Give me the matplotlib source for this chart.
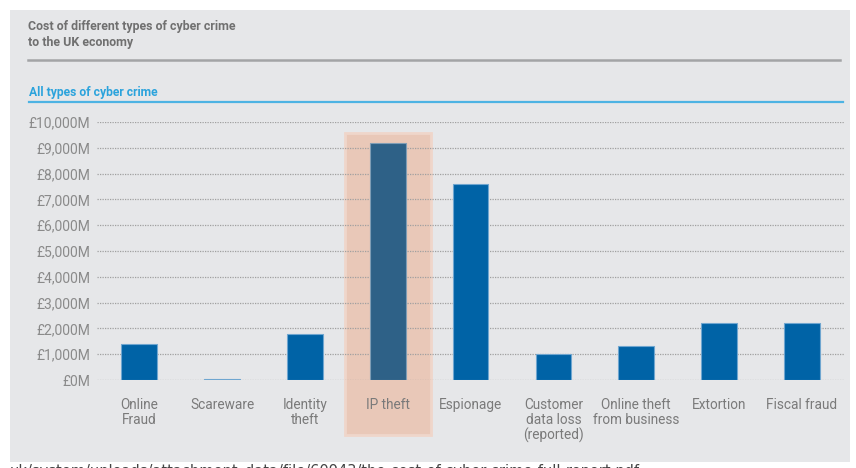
import matplotlib
matplotlib.use("Agg")
import matplotlib.pyplot as plt
from matplotlib.patches import Rectangle
from matplotlib.lines import Line2D

categories = ["Online\nFraud", "Scareware", "Identity\ntheft", "IP theft", "Espionage",
              "Customer\ndata loss\n(reported)", "Online theft\nfrom business", "Extortion", "Fiscal fraud"]
values = [1400, 30, 1800, 9200, 7600, 1000, 1300, 2200, 2200]
yticks = [0, 1000, 2000, 3000, 4000, 5000, 6000, 7000, 8000, 9000, 10000]
ytick_labels = ["£0M", "£1,000M", "£2,000M", "£3,000M", "£4,000M", "£5,000M",
                "£6,000M", "£7,000M", "£8,000M", "£9,000M", "£10,000M"]
highlight_index = 3

W, H = 856, 468
fig = plt.figure(figsize=(W / 100, H / 100), dpi=100)
fig.patch.set_facecolor("white")

def fx(px):
    return px / W

def fy(py):
    return 1 - py / H

# grey panel
fig.patches.append(Rectangle((fx(10), fy(462)), fx(840), (462 - 10) / H,
                             transform=fig.transFigure, facecolor="#e6e7e9",
                             edgecolor="none", zorder=-5))

# titles
fig.text(fx(28), fy(20), "Cost of different types of cyber crime\nto the UK economy",
         ha="left", va="top", fontsize=8.9, fontweight="bold", color="#707070",
         family="Roboto", linespacing=1.3)
fig.add_artist(Line2D([fx(28), fx(840)], [fy(60), fy(60)], transform=fig.transFigure,
                      color="#a3a4a6", lw=1.8))
fig.text(fx(29), fy(96), "All types of cyber crime", ha="left", va="baseline",
         fontsize=8.7, fontweight="bold", color="#2ba3dc", family="Roboto")
fig.add_artist(Line2D([fx(29), fx(843)], [fy(102), fy(102)], transform=fig.transFigure,
                      color="#4db3e3", lw=1.6))

ax = fig.add_axes([fx(97), fy(380), fx(845 - 97), (380 - 122) / H])
ax.set_facecolor("none")
ax.set_zorder(2)
ax.set_xlim(-0.51, 8.52)
ax.set_ylim(0, 10000)

x = list(range(len(categories)))
colors = ["#2e6187" if i == highlight_index else "#0063a6" for i in x]
edges = ["#7f9db5" if i == highlight_index else "#6fa6d0" for i in x]

# highlight box
ax.add_patch(Rectangle((highlight_index - 0.52, -2130), 1.04, 9570 + 2130,
                       facecolor="#e9c8b8", edgecolor="#efd6ca", lw=2,
                       clip_on=False, zorder=0))

for yv in yticks:
    ax.axhline(yv, color="#a0a0a0", lw=0.9, ls=(0, (1, 1)), zorder=1)

ax.bar(x, values, width=0.43, color=colors, edgecolor=edges, linewidth=0.8, zorder=3)

ax.set_yticks(yticks)
ax.set_yticklabels(ytick_labels, fontsize=10, color="#8a8a8a", family="Roboto")
ax.set_xticks(x)
ax.set_xticklabels(categories, fontsize=9.8, color="#7a7a7a", family="Roboto",
                   linespacing=1.05, va="top")
ax.tick_params(axis="y", length=0, pad=5)
ax.tick_params(axis="x", length=0, pad=13)
for s in ax.spines.values():
    s.set_visible(False)

# clipped source URL at the bottom (as in the reference screenshot)
fig.text(fx(10), fy(464), "uk/system/uploads/attachment_data/file/60943/the-cost-of-cyber-crime-full-report.pdf",
         ha="left", va="top", fontsize=10.5, color="#444444", family="DejaVu Sans")

fig.savefig("out.png", dpi=100, facecolor="white")
